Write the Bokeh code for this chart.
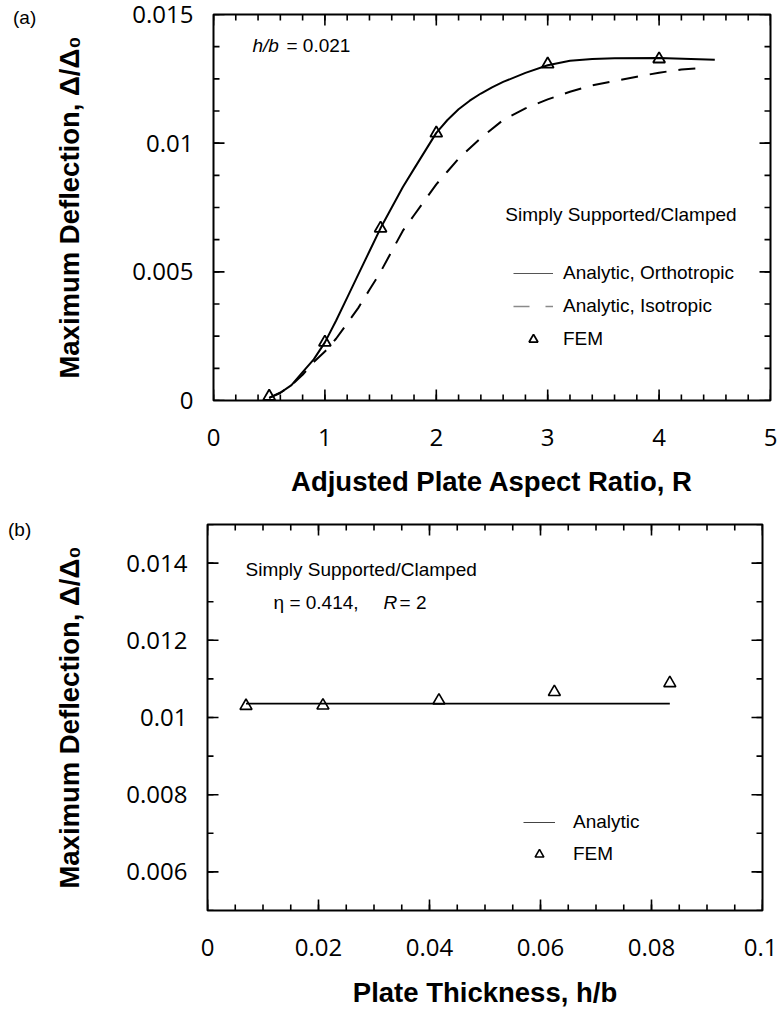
from math import pi
from bokeh.plotting import figure
from bokeh.models import FixedTicker, Label, Legend, LegendItem, Range1d, Div
from bokeh.layouts import column, row
from bokeh.embed import file_html
from bokeh.resources import INLINE

# ---------------- data: panel (a) ----------------
ratio_ortho = [0.5, 0.6, 0.7, 0.8, 0.9, 1.0, 1.1, 1.2, 1.3, 1.4, 1.5, 1.6, 1.7, 1.8, 1.9,
               2.0, 2.1, 2.2, 2.3, 2.4, 2.5, 2.6, 2.8, 3.0, 3.2, 3.4, 3.6, 4.0, 4.5]
defl_ortho = [0.0001, 0.0003, 0.0006, 0.0011, 0.0016, 0.00226, 0.0031, 0.0040, 0.0049,
              0.0058, 0.0067, 0.0075, 0.0083, 0.0090, 0.0097, 0.0104, 0.0109, 0.01132,
              0.01165, 0.01193, 0.01217, 0.01238, 0.01273, 0.01303, 0.0132, 0.01327,
              0.0133, 0.01331, 0.01324]
ratio_iso = [0.5, 0.6, 0.7, 0.8, 0.9, 1.0, 1.1, 1.2, 1.3, 1.4, 1.5, 1.6, 1.7, 1.8, 1.9,
             2.0, 2.1, 2.2, 2.4, 2.6, 2.8, 3.0, 3.2, 3.4, 3.6, 3.8, 4.0, 4.2, 4.4]
defl_iso = [0.0001, 0.0003, 0.0006, 0.0010, 0.0015, 0.0019, 0.0024, 0.0030, 0.0036,
            0.0043, 0.0050, 0.0058, 0.0066, 0.0072, 0.0078, 0.0084, 0.0089, 0.0094,
            0.0102, 0.0109, 0.01135, 0.0117, 0.0120, 0.01225, 0.01242, 0.01258,
            0.01274, 0.01286, 0.01292]
ratio_fem = [0.5, 1.0, 1.5, 2.0, 3.0, 4.0]
defl_fem_a = [0.00016, 0.00226, 0.00669, 0.01039, 0.01307, 0.01327]

# ---------------- data: panel (b) ----------------
hb_analytic = [0.00694, 0.0833]
defl_analytic = [0.01036, 0.01036]
hb_fem = [0.00694, 0.0208, 0.0417, 0.0625, 0.0833]
defl_fem_b = [0.01030, 0.01031, 0.01044, 0.01066, 0.01089]

# ---------------- axes ----------------
xa_range = (0, 5)
ya_range = (0, 0.015)
xa_ticks = [0, 1, 2, 3, 4, 5]
xa_labels = ["0", "1", "2", "3", "4", "5"]
xa_minor = [round(0.2 * i, 2) for i in range(26)]
ya_ticks = [0, 0.005, 0.01, 0.015]
ya_labels = ["0", "0.005", "0.01", "0.015"]
ya_minor = [round(0.00125 * i, 5) for i in range(13)]

xb_range = (0, 0.1)
yb_range = (0.005, 0.015)
xb_ticks = [0, 0.02, 0.04, 0.06, 0.08, 0.1]
xb_labels = ["0", "0.02", "0.04", "0.06", "0.08", "0.1"]
xb_minor = [round(0.005 * i, 3) for i in range(21)]
yb_ticks = [0.006, 0.008, 0.01, 0.012, 0.014]
yb_labels = ["0.006", "0.008", "0.01", "0.012", "0.014"]
yb_minor = [round(0.005 + 0.001 * i, 3) for i in range(11)]

TICK_FONT = "Open Sans"
TEXT_FONT = "Liberation Sans"
LEFT_STRIP = 40


def make_fig(xr, yr, width, height, bl, br, bt, bb):
    p = figure(width=width, height=height, output_backend="svg", toolbar_location=None,
               x_range=Range1d(*xr), y_range=Range1d(*yr),
               min_border_left=bl, min_border_right=br, min_border_top=bt,
               min_border_bottom=bb)
    p.grid.visible = False
    p.outline_line_color = "black"
    p.outline_line_width = 2
    p.background_fill_color = "white"
    p.border_fill_color = "white"
    return p


def style_axis(ax, ticks, labels, standoff, title, title_standoff):
    ax.ticker = FixedTicker(ticks=ticks, minor_ticks=[])
    ax.axis_line_color = None
    ax.major_tick_line_color = None
    ax.minor_tick_line_color = None
    ax.major_tick_in = 0
    ax.major_tick_out = 0
    ax.minor_tick_in = 0
    ax.minor_tick_out = 0
    ax.major_label_overrides = {t: l for t, l in zip(ticks, labels)}
    ax.major_label_text_font = TICK_FONT
    ax.major_label_text_font_size = "24px"
    ax.major_label_text_color = "black"
    ax.major_label_standoff = standoff
    ax.axis_label = title
    ax.axis_label_text_font = TEXT_FONT
    ax.axis_label_text_font_style = "bold"
    ax.axis_label_text_font_size = "27.5px"
    ax.axis_label_text_color = "black"
    ax.axis_label_standoff = title_standoff


def add_frame_ticks(p, xr, yr, xt, xm, yt, ym):
    # inward ticks on all four sides: dash markers centred on the frame edge,
    # the outer half is clipped by the frame
    kw = dict(marker="dash", line_color="black", line_width=1.6)
    for yv in yr:
        p.scatter(xt, [yv] * len(xt), angle=pi / 2, size=22, **kw)
        p.scatter(xm, [yv] * len(xm), angle=pi / 2, size=12, **kw)
    for xv in xr:
        p.scatter([xv] * len(yt), yt, size=22, **kw)
        p.scatter([xv] * len(ym), ym, size=12, **kw)


def text(p, x, y, s, size="19px", style="normal", **kw):
    p.add_layout(Label(x=x, y=y, text=s, text_font=TEXT_FONT, text_font_size=size,
                       text_font_style=style, text_baseline="middle",
                       text_color="black", **kw))


def panel_tag(tag, height, pad_top, pad_left):
    html = ('<div style="padding:%dpx 0 0 %dpx;font-family:\'Liberation Sans\',sans-serif;'
            'font-size:19px;line-height:22px;color:black;white-space:nowrap">%s</div>'
            % (pad_top, pad_left, tag))
    return Div(text=html, width=LEFT_STRIP, height=height, margin=0)


YTITLE = "Maximum Deflection, \u0394/\u0394\u2080"

# ================= panel (a) =================
pa = make_fig(xa_range, ya_range, 777 - LEFT_STRIP, 505, 213 - LEFT_STRIP, 7, 14, 105)
style_axis(pa.xaxis[0], xa_ticks, xa_labels, 28, "Adjusted Plate Aspect Ratio, R", 17)
style_axis(pa.yaxis[0], ya_ticks, ya_labels, 20, YTITLE, 44)
add_frame_ticks(pa, xa_range, ya_range, xa_ticks, xa_minor, ya_ticks, ya_minor)

r_ortho = pa.line(ratio_ortho, defl_ortho, line_color="black", line_width=2)
r_iso = pa.line(ratio_iso, defl_iso, line_color="black", line_width=2, line_dash="17 12")
r_fem_a = pa.scatter(ratio_fem, defl_fem_a, marker="triangle", size=12,
                     fill_color=None, line_color="black", line_width=1.8)

# one-point lines: invisible in the plot, used only as legend swatches
leg_solid = pa.line(ratio_ortho[:1], defl_ortho[:1], line_color="#555555", line_width=1.2)
leg_dash = pa.line(ratio_iso[:1], defl_iso[:1], line_color="#8a8a8a", line_width=1.6,
                   line_dash="16 16")
leg_a = Legend(items=[LegendItem(label="Analytic, Orthotropic", renderers=[leg_solid], index=0),
                      LegendItem(label="Analytic, Isotropic", renderers=[leg_dash], index=0),
                      LegendItem(label="FEM", renderers=[r_fem_a], index=0)],
               location=(300, 50), glyph_width=40, glyph_height=22, label_height=22,
               label_standoff=10, spacing=11, padding=0, margin=0,
               border_line_color=None, background_fill_alpha=0,
               label_text_font=TEXT_FONT, label_text_font_size="19px",
               label_text_color="black")
pa.add_layout(leg_a)

text(pa, 2.62, 0.00722, "Simply Supported/Clamped")
text(pa, 0.35, 0.0138, "h/b", style="italic")
text(pa, 0.35, 0.0138, "= 0.021", x_offset=34)

# ================= panel (b) =================
pb = make_fig(xb_range, yb_range, 777 - LEFT_STRIP, 505, 207 - LEFT_STRIP, 15, 19, 100)
style_axis(pb.xaxis[0], xb_ticks, xb_labels, 28, "Plate Thickness, h/b", 18)
style_axis(pb.yaxis[0], yb_ticks, yb_labels, 20, YTITLE, 38)
add_frame_ticks(pb, xb_range, yb_range, xb_ticks, xb_minor, yb_ticks, yb_minor)

pb.line(hb_analytic, defl_analytic, line_color="black", line_width=1.6)
r_fem_b = pb.scatter(hb_fem, defl_fem_b, marker="triangle", size=12,
                     fill_color=None, line_color="black", line_width=1.6)
leg_solid_b = pb.line(hb_analytic[:1], defl_analytic[:1], line_color="#444444", line_width=1.2)
leg_b = Legend(items=[LegendItem(label="Analytic", renderers=[leg_solid_b], index=0),
                      LegendItem(label="FEM", renderers=[r_fem_b], index=0)],
               location=(316, 45), glyph_width=32, glyph_height=22, label_height=22,
               label_standoff=18, spacing=10, padding=0, margin=0,
               border_line_color=None, background_fill_alpha=0,
               label_text_font=TEXT_FONT, label_text_font_size="19px",
               label_text_color="black")
pb.add_layout(leg_b)

text(pb, 0.00685, 0.01383, "Simply Supported/Clamped")
text(pb, 0.0119, 0.01297, "\u03b7 = 0.414,")
text(pb, 0.0317, 0.01297, "R", style="italic")
text(pb, 0.0346, 0.01297, "= 2")

layout = column(row(panel_tag("(a)", 505, 7, 13), pa, spacing=0),
                row(panel_tag("(b)", 505, 14, 8), pb, spacing=0),
                spacing=0)
open("out.html", "w").write(file_html(layout, INLINE))
